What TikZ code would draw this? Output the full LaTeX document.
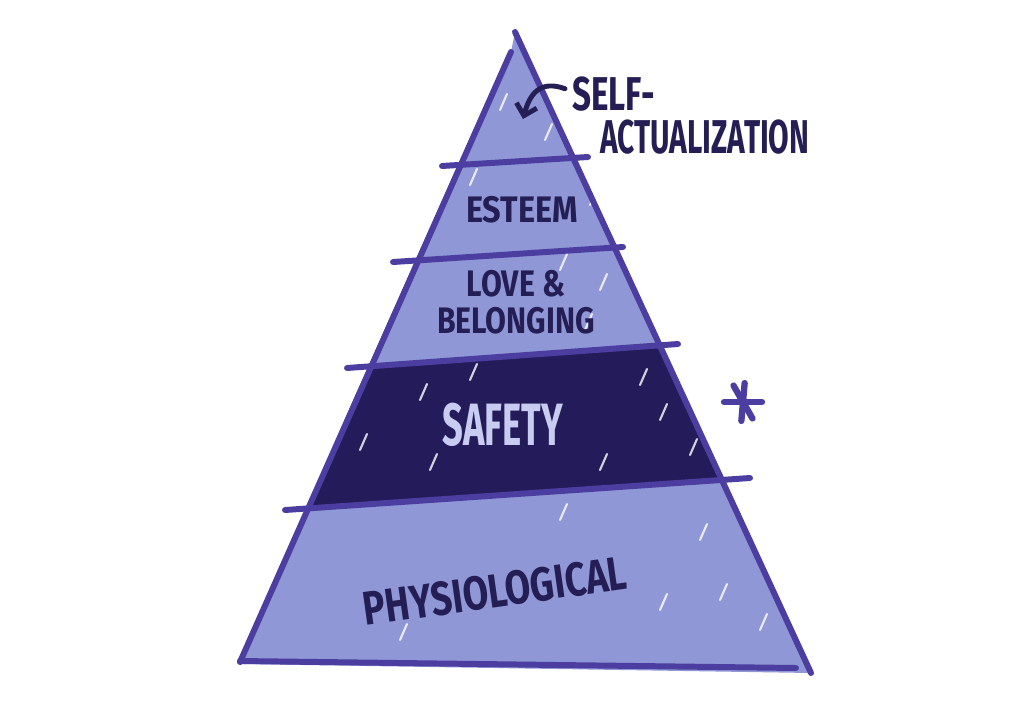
\documentclass[tikz,border=0pt]{standalone}
\usepackage{fontspec}
\setmainfont{Fira Sans}
\usepackage{tikz}
\usetikzlibrary{positioning, calc, arrows.meta}
\definecolor{pyrfill}{HTML}{8F97D6}
\definecolor{pyrline}{HTML}{4C3EA0}
\definecolor{pyrnavy}{HTML}{231B5A}
\definecolor{pyrink}{HTML}{241E55}
\definecolor{safeink}{HTML}{C8CCF0}
\tikzstyle{tier} = [text = pyrink, font = \bfseries, inner sep = 0pt, align = center]
\tikzstyle{bar} = [draw = pyrline, line width = 3.4pt, line cap = round]
\tikzstyle{streak} = [draw = white, line width = 1.2pt, line cap = round, opacity = 0.8]
\tikzstyle{pointer} = [draw = pyrink, line width = 2.8pt, line cap = round, -{Straight Barb[length = 6pt, width = 12pt]}]
\newcommand{\hand}[2]{\scalebox{#1}[1]{#2}}

\begin{document}
\begin{tikzpicture}[x = 0.02cm, y = -0.02cm]
\useasboundingbox (0,0) rectangle (1024,723);
\fill[pyrfill] (511,52) -- (515,32) -- (811,673) -- (240,664) -- cycle;
\begin{scope}
\clip (511,52) -- (515,32) -- (811,673) -- (240,664) -- cycle;
\fill[pyrnavy] (200,378) -- (800,336) -- (800,474) -- (200,516) -- cycle;
\foreach \x/\y in {530/70, 500/110, 545/140, 470/185, 590/205, 560/270, 600/290, 585/330, 470/380, 420/400, 640/385, 660/420, 360/450, 430/470, 600/470, 690/455, 560/520, 700/540, 720/600, 660/610, 400/640, 760/630}
  \draw[streak] (\x,\y) -- ++(7,-16);
\end{scope}
\draw[bar] (511,52) -- (240,662);
\draw[bar] (515,32) -- (811,673);
\draw[bar] (240,661) -- (796,668);
\draw[bar] (442,166) -- (588,157);
\draw[bar] (393,262) -- (623,247);
\draw[bar] (347,368) -- (678,344);
\draw[bar] (285,510) -- (750,478);
\node (self) [tier, anchor = west, font = \bfseries\fontsize{27}{30}\selectfont] at (572,94) {\hand{0.7}{SELF-}};
\node (actual) [tier, anchor = west, font = \bfseries\fontsize{27}{30}\selectfont] at (600,137) {\hand{0.63}{ACTUALIZATION}};
\coordinate (peak) at (523,119);
\draw[pointer] ([xshift = -4pt, yshift = 3pt]self.west) to[out = 160, in = 75, looseness = 1.3] (peak);
\node (esteem) [tier, font = \bfseries\fontsize{21}{24}\selectfont] at (522,210) {\hand{0.88}{ESTEEM}};
\node (love) [tier, font = \bfseries\fontsize{21}{21}\selectfont] at (516,302) {\hand{0.82}{LOVE \&}\\ \hand{0.82}{BELONGING}};
\node (safety) [tier, text = safeink, font = \bfseries\fontsize{34}{38}\selectfont] at (503,425) {\hand{0.61}{SAFETY}};
\node (physio) [tier, rotate = 8, font = \bfseries\fontsize{27}{30}\selectfont] at (495,591) {\hand{0.78}{PHYSIOLOGICAL}};
\coordinate (star) at (743,402);
\foreach \a in {0, 60, 95}
  \draw[pyrline, line width = 3.6pt, line cap = round] ($(star) + (\a:19)$) -- ($(star) + (\a+180:19)$);
\end{tikzpicture}
\end{document}
